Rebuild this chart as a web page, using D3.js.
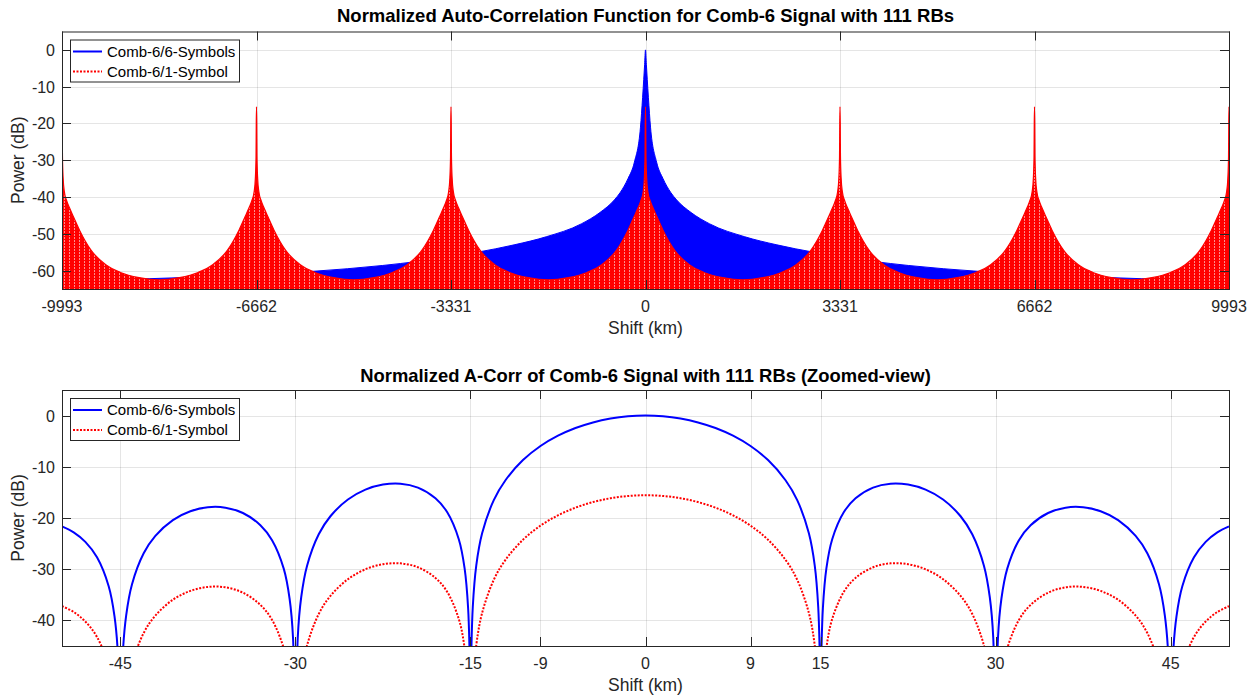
<!doctype html>
<html>
<head>
<meta charset="utf-8">
<style>
    body {
        margin: 0;
        background: #fff;
        font-family: 'Liberation Sans', Arial, sans-serif;
    }
    text {
        fill: #262626;
    }
    text.title {
        font-weight: bold;
        fill: #000;
    }
    text.tick {
        font-size: 16px;
    }
    text.label {
        font-size: 17.5px;
    }
    text.legend {
        font-size: 15px;
        fill: #000;
    }
    .grid line {
        stroke: #262626;
        stroke-opacity: 0.12;
        stroke-width: 1;
    }
    .box {
        fill: none;
        stroke: #262626;
        stroke-width: 1;
    }
    .tk {
        stroke: #262626;
        stroke-width: 1;
    }
</style>
<script src="https://cdn.jsdelivr.net/npm/d3@7"></script>
</head>
<body>
<svg width="1256" height="700"></svg>
<script>
    // ---- top panel: full auto-correlation (envelopes) ----
    const topXTicks = [-9993, -6662, -3331, 0, 3331, 6662, 9993];
    const topYTicks = [-60, -50, -40, -30, -20, -10, 0];

    // blue (6 symbols): upper envelope of the dense trace, km -> dB
    const blueEnvKm = [-9993, -8500, -7000, -5700, -4500, -3900, -3331, -2880, -2250, -1700, -1100, -780, -534, -430, -300, -190, -86, -50, -30, -15, 0,
                       15, 30, 50, 86, 190, 300, 430, 534, 780, 1100, 1700, 2250, 2880, 3331, 3900, 4500, 5700, 7000, 8500, 9993];
    const blueEnvDb = [-62.8, -62.2, -61.3, -60.2, -58.6, -57.5, -56.2, -55, -53, -50.8, -47.3, -44.2, -40.8, -38.7, -35, -30.5, -21, -13, -8, -4, 0,
                       -4, -8, -13, -21, -30.5, -35, -38.7, -40.8, -44.2, -47.3, -50.8, -53, -55, -56.2, -57.5, -58.6, -60.2, -61.3, -62.2, -62.8];

    // red (1 symbol): same lobe repeats at every comb peak
    const redPeakKm = [-9993, -6662, -3331, 0, 3331, 6662, 9993];
    const redLobeKm = [0, 4, 8, 20, 40, 80, 130, 200, 300, 400, 500, 750, 1000, 1320, 1665];
    const redLobeDb = [-15.5, -20, -29, -35, -38.5, -41, -43, -45.5, -49, -52, -54.5, -58.4, -60.5, -61.9, -62.5];

    // ---- bottom panel: zoomed view ----
    const zoomXTicks = [-45, -30, -15, -9, 0, 9, 15, 30, 45];
    const zoomYTicks = [-40, -30, -20, -10, 0];
    const zoomKm = [-50, -49, -48, -47, -46, -45.5, -45.2, -45, -44.8, -44.5, -44, -43, -42, -40.5, -39, -37.5, -36, -34.5, -33, -32, -31, -30.5, -30.2, -30,
                    -29.8, -29.5, -29, -28, -27, -25.5, -24, -22.5, -21, -19.5, -18, -17, -16, -15.5, -15.2, -15.05, -15,
                    -14.95, -14.8, -14.5, -14, -13, -12, -10.5, -9, -7.5, -6, -4.5, -3, -1.5, 0,
                    1.5, 3, 4.5, 6, 7.5, 9, 10.5, 12, 13, 14, 14.5, 14.8, 14.95,
                    15, 15.05, 15.2, 15.5, 16, 17, 18, 19.5, 21, 22.5, 24, 25.5, 27, 28, 29, 29.5, 29.8,
                    30, 30.2, 30.5, 31, 32, 33, 34.5, 36, 37.5, 39, 40.5, 42, 43, 44, 44.5, 44.8, 45, 45.2, 45.5, 46, 47, 48, 49, 50];
    const zoomBlueDb = [-21.65, -22.8, -24.66, -27.68, -33.32, -39.2, -47.08, -80, -47, -39, -32.93, -26.9, -23.5, -20.41, -18.68, -17.9, -17.98, -19.02, -21.41, -24.34, -29.89, -35.72, -43.58, -80,
                        -43.47, -35.43, -29.31, -23.18, -19.66, -16.39, -14.46, -13.47, -13.3, -14.06, -16.14, -18.84, -24.15, -29.84, -37.62, -49.6, -80,
                        -49.5, -37.39, -29.26, -22.99, -16.51, -12.62, -8.69, -5.94, -3.92, -2.42, -1.33, -0.58, -0.14, 0,
                        -0.14, -0.58, -1.33, -2.42, -3.92, -5.94, -8.69, -12.62, -16.51, -22.99, -29.26, -37.39, -49.5,
                        -80, -49.6, -37.62, -29.84, -24.15, -18.84, -16.14, -14.06, -13.3, -13.47, -14.46, -16.39, -19.66, -23.18, -29.31, -35.43, -43.47,
                        -80, -43.58, -35.72, -29.89, -24.34, -21.41, -19.02, -17.98, -17.9, -18.68, -20.41, -23.5, -26.9, -32.93, -39, -47, -80, -47.08, -39.2, -33.32, -27.68, -24.66, -22.8, -21.65];
    const zoomRedDb = [-37.21, -38.36, -40.22, -43.24, -48.88, -54.76, -62.64, -80, -62.56, -54.56, -48.49, -42.46, -39.06, -35.97, -34.24, -33.46, -33.54, -34.58, -36.97, -39.9, -45.45, -51.28, -59.14, -80,
                       -59.03, -50.99, -44.87, -38.74, -35.22, -31.95, -30.02, -29.03, -28.86, -29.62, -31.7, -34.4, -39.71, -45.4, -53.18, -65.16, -80,
                       -65.06, -52.95, -44.82, -38.55, -32.07, -28.18, -24.25, -21.5, -19.48, -17.98, -16.89, -16.14, -15.7, -15.56,
                       -15.7, -16.14, -16.89, -17.98, -19.48, -21.5, -24.25, -28.18, -32.07, -38.55, -44.82, -52.95, -65.06,
                       -80, -65.16, -53.18, -45.4, -39.71, -34.4, -31.7, -29.62, -28.86, -29.03, -30.02, -31.95, -35.22, -38.74, -44.87, -50.99, -59.03,
                       -80, -59.14, -51.28, -45.45, -39.9, -36.97, -34.58, -33.54, -33.46, -34.24, -35.97, -39.06, -42.46, -48.49, -54.56, -62.56, -80, -62.64, -54.76, -48.88, -43.24, -40.22, -38.36, -37.21];

    const seriesNames = ['Comb-6/6-Symbols', 'Comb-6/1-Symbol'];
    const blue = '#0000ff', red = '#ff0000';

    const svg = d3.select('svg');
    const left = 62, right = 1229;

    // dotted red trace drawn densely looks hatched: red with faint light streaks
    const pat = svg.append('defs').append('pattern')
        .attr('id', 'redHatch').attr('patternUnits', 'userSpaceOnUse')
        .attr('width', 5).attr('height', 3);
    pat.append('rect').attr('width', 5).attr('height', 3).attr('fill', red);
    pat.append('rect').attr('x', 4).attr('width', 1).attr('height', 2).attr('fill', '#ff8c8c');

    function panel(top, bottom, xDomain, yDomain, xTicks, yTicks, id) {
        const x = d3.scaleLinear().domain(xDomain).range([left, right]);
        const y = d3.scaleLinear().domain(yDomain).range([bottom, top]);
        const g = svg.append('g');

        svg.append('clipPath').attr('id', id)
            .append('rect')
            .attr('x', left).attr('y', top)
            .attr('width', right - left).attr('height', bottom - top);

        const grid = g.append('g').attr('class', 'grid');
        grid.selectAll('.gx').data(xTicks).enter().append('line')
            .attr('x1', d => Math.round(x(d)) + 0.5).attr('x2', d => Math.round(x(d)) + 0.5)
            .attr('y1', top).attr('y2', bottom);
        grid.selectAll('.gy').data(yTicks).enter().append('line')
            .attr('y1', d => Math.round(y(d)) + 0.5).attr('y2', d => Math.round(y(d)) + 0.5)
            .attr('x1', left).attr('x2', right);

        const plot = g.append('g').attr('clip-path', `url(#${id})`);
        const frame = g.append('g');
        return { x, y, g, plot, frame, top, bottom };
    }

    function decorate(p, xTicks, yTicks, title, titleY, titleSize) {
        const { x, y, frame, top, bottom } = p;
        const tl = 9;
        frame.append('rect').attr('class', 'box')
            .attr('x', left + 0.5).attr('y', top + 0.5)
            .attr('width', right - left).attr('height', bottom - top);

        xTicks.forEach(d => {
            const px = Math.round(x(d)) + 0.5;
            frame.append('line').attr('class', 'tk').attr('x1', px).attr('x2', px).attr('y1', bottom).attr('y2', bottom - tl);
            frame.append('line').attr('class', 'tk').attr('x1', px).attr('x2', px).attr('y1', top).attr('y2', top + tl);
            frame.append('text').attr('class', 'tick')
                .attr('x', x(d)).attr('y', bottom + 23)
                .attr('text-anchor', 'middle')
                .text(d);
        });
        yTicks.forEach(d => {
            const py = Math.round(y(d)) + 0.5;
            frame.append('line').attr('class', 'tk').attr('x1', left).attr('x2', left + tl).attr('y1', py).attr('y2', py);
            frame.append('line').attr('class', 'tk').attr('x1', right).attr('x2', right - tl).attr('y1', py).attr('y2', py);
            frame.append('text').attr('class', 'tick')
                .attr('x', left - 7).attr('y', y(d) + 6)
                .attr('text-anchor', 'end')
                .text(d);
        });

        frame.append('text').attr('class', 'title')
            .attr('x', (left + right) / 2).attr('y', titleY)
            .attr('text-anchor', 'middle')
            .style('font-size', titleSize + 'px')
            .text(title);
        frame.append('text').attr('class', 'label')
            .attr('x', (left + right) / 2).attr('y', bottom + 45)
            .attr('text-anchor', 'middle')
            .text('Shift (km)');
        frame.append('text').attr('class', 'label')
            .attr('transform', `translate(24, ${(top + bottom) / 2}) rotate(-90)`)
            .attr('text-anchor', 'middle')
            .text('Power (dB)');

        // legend
        const lg = frame.append('g').attr('transform', `translate(${left + 8}, ${top + 8})`);
        lg.append('rect').attr('x', 0.5).attr('y', 0.5).attr('width', 169).attr('height', 42)
            .attr('fill', '#fff').attr('stroke', '#262626').attr('stroke-width', 1);
        seriesNames.forEach((name, i) => {
            const ly = 12 + i * 20;
            lg.append('line')
                .attr('x1', 3).attr('x2', 32).attr('y1', ly).attr('y2', ly)
                .attr('stroke', i ? red : blue).attr('stroke-width', 2)
                .attr('stroke-dasharray', i ? '2,1.5' : null);
            lg.append('text').attr('class', 'legend')
                .attr('x', 37).attr('y', ly + 5)
                .text(name);
        });
    }

    // ---- top panel ----
    const p1 = panel(31.5, 289, [-9993, 9993], [-65, 5], topXTicks, topYTicks, 'clipTop');

    const blueEnv = blueEnvKm.map((k, i) => [k, blueEnvDb[i]]);
    const redEnv = [];
    redPeakKm.forEach(pk => {
        for (let i = redLobeKm.length - 1; i >= 0; i--) redEnv.push([pk - redLobeKm[i], redLobeDb[i]]);
        for (let i = 1; i < redLobeKm.length; i++) redEnv.push([pk + redLobeKm[i], redLobeDb[i]]);
    });
    const redClean = redEnv.filter((d, i) => i === 0 || d[0] !== redEnv[i - 1][0]);

    const envArea = d3.area()
        .x(d => p1.x(d[0]))
        .y0(p1.y(-70))
        .y1(d => p1.y(d[1]))
        .curve(d3.curveMonotoneX);

    p1.plot.append('path').datum(blueEnv)
        .attr('d', envArea)
        .attr('fill', blue).attr('stroke', blue).attr('stroke-width', 1);
    p1.plot.append('path').datum(redClean)
        .attr('d', envArea)
        .attr('fill', 'url(#redHatch)').attr('stroke', red).attr('stroke-width', 1.2);

    decorate(p1, topXTicks, topYTicks, 'Normalized Auto-Correlation Function for Comb-6 Signal with 111 RBs', 22, 18.5);

    // ---- bottom panel ----
    const p2 = panel(390, 646, [-50, 50], [-45, 5], zoomXTicks, zoomYTicks, 'clipBottom');

    const zLine = d3.line()
        .x(d => p2.x(d[0]))
        .y(d => p2.y(d[1]))
        .curve(d3.curveCatmullRom.alpha(0.5));

    p2.plot.append('path')
        .datum(zoomKm.map((k, i) => [k, zoomBlueDb[i]]))
        .attr('d', zLine)
        .attr('fill', 'none').attr('stroke', blue).attr('stroke-width', 2);
    p2.plot.append('path')
        .datum(zoomKm.map((k, i) => [k, zoomRedDb[i]]))
        .attr('d', zLine)
        .attr('fill', 'none').attr('stroke', red).attr('stroke-width', 2)
        .attr('stroke-dasharray', '2,1.5');

    decorate(p2, zoomXTicks, zoomYTicks, 'Normalized A-Corr of Comb-6 Signal with 111 RBs (Zoomed-view)', 382, 18.4);
</script>
</body>
</html>
